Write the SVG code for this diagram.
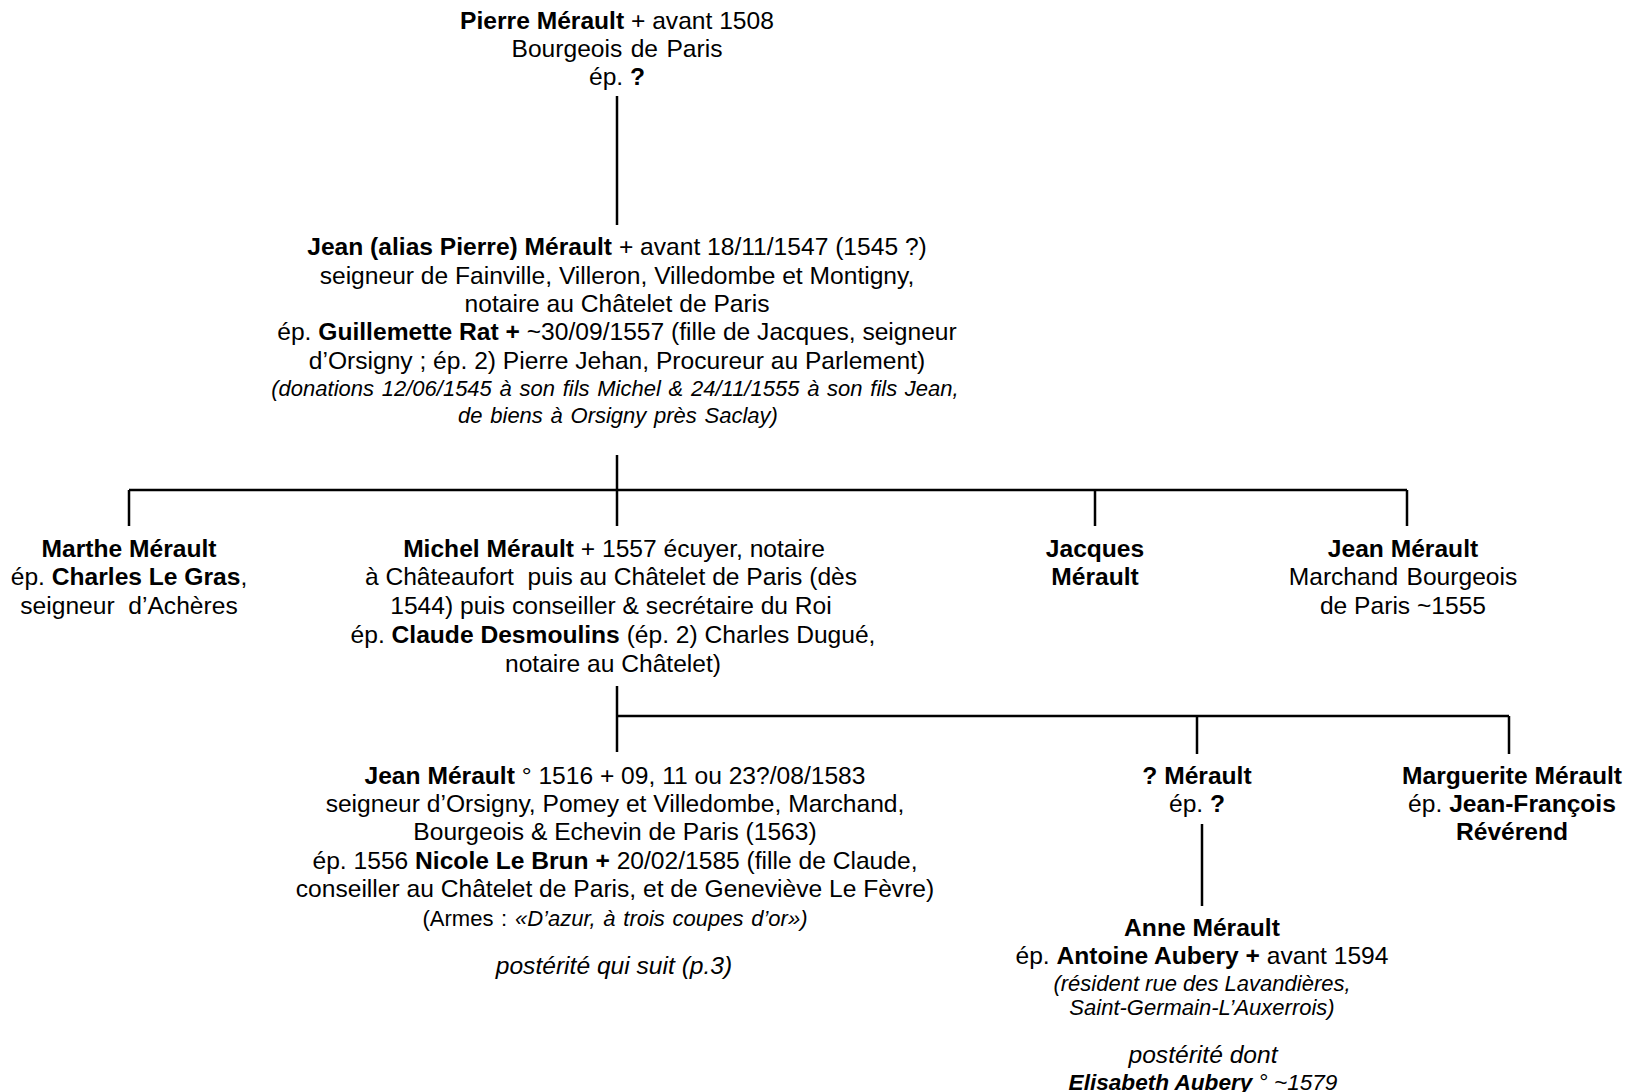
<svg xmlns="http://www.w3.org/2000/svg" width="1642" height="1092" viewBox="0 0 1642 1092">
<style>
.t{font-family:"Liberation Sans",Arial,sans-serif;font-size:24.6px;fill:#000;text-anchor:middle}
.b{font-weight:bold}
.i{font-style:italic}
.s{font-size:22px}
.ws{word-spacing:1.6px}
.ln{stroke:#000;stroke-width:2.5;fill:none}
</style>
<rect width="1642" height="1092" fill="#fff"/>
<g id="connectors" class="ln">
<path d="M617 96V225"/>
<path d="M617 455V490"/>
<path d="M129 490H1407"/>
<path d="M129 490V526M617 490V526M1095 490V526M1407 490V526"/>
<path d="M617 686V752"/>
<path d="M617 716H1509"/>
<path d="M1197 716V754M1509 716V754"/>
<path d="M1202 824V906"/>
</g>
<g id="n-pierre">
<text class="t" x="617" y="29"><tspan class="b">Pierre Mérault</tspan> + avant 1508</text>
<text class="t ws" x="617" y="57">Bourgeois de Paris</text>
<text class="t" x="617" y="85">ép. <tspan class="b">?</tspan></text>
</g>
<g id="n-jean-pere">
<text class="t" x="617" y="255"><tspan class="b">Jean (alias Pierre) Mérault</tspan> + avant 18/11/1547 (1545 ?)</text>
<text class="t" x="617" y="283.5">seigneur de Fainville, Villeron, Villedombe et Montigny,</text>
<text class="t" x="617" y="312">notaire au Châtelet de Paris</text>
<text class="t" x="617" y="340">ép. <tspan class="b">Guillemette Rat +</tspan> ~30/09/1557 (fille de Jacques, seigneur</text>
<text class="t" x="617" y="368.5">d’Orsigny ; ép. 2) Pierre Jehan, Procureur au Parlement)</text>
<text class="t i s ws" x="615" y="395.5">(donations 12/06/1545 à son fils Michel &amp; 24/11/1555 à son fils Jean,</text>
<text class="t i s ws" x="618" y="422.5">de biens à Orsigny près Saclay)</text>
</g>
<g id="n-marthe">
<text class="t" x="129" y="557"><tspan class="b">Marthe Mérault</tspan></text>
<text class="t" x="129" y="585">ép. <tspan class="b">Charles Le Gras</tspan>,</text>
<text class="t" x="129" y="614" xml:space="preserve">seigneur  d’Achères</text>
</g>
<g id="n-michel">
<text class="t" x="614" y="557"><tspan class="b">Michel Mérault</tspan> + 1557 écuyer, notaire</text>
<text class="t" x="611" y="585" xml:space="preserve">à Châteaufort  puis au Châtelet de Paris (dès</text>
<text class="t" x="611" y="614">1544) puis conseiller &amp; secrétaire du Roi</text>
<text class="t" x="613" y="643">ép. <tspan class="b">Claude Desmoulins</tspan> (ép. 2) Charles Dugué,</text>
<text class="t" x="613" y="672">notaire au Châtelet)</text>
</g>
<g id="n-jacques">
<text class="t b" x="1095" y="557">Jacques</text>
<text class="t b" x="1095" y="585">Mérault</text>
</g>
<g id="n-jean-marchand">
<text class="t b" x="1403" y="557">Jean Mérault</text>
<text class="t ws" x="1403" y="585">Marchand Bourgeois</text>
<text class="t" x="1403" y="614">de Paris ~1555</text>
</g>
<g id="n-jean-fils">
<text class="t" x="615" y="784"><tspan class="b">Jean Mérault</tspan> ° 1516 + 09, 11 ou 23?/08/1583</text>
<text class="t" x="615" y="812">seigneur d’Orsigny, Pomey et Villedombe, Marchand,</text>
<text class="t" x="615" y="840">Bourgeois &amp; Echevin de Paris (1563)</text>
<text class="t" x="615" y="869">ép. 1556 <tspan class="b">Nicole Le Brun +</tspan> 20/02/1585 (fille de Claude,</text>
<text class="t" x="615" y="897">conseiller au Châtelet de Paris, et de Geneviève Le Fèvre)</text>
<text class="t s ws" x="615" y="926">(Armes : <tspan class="i">«D’azur, à trois coupes d’or»)</tspan></text>
<text class="t i" x="614" y="974">postérité qui suit (p.3)</text>
</g>
<g id="n-inconnu">
<text class="t b" x="1197" y="784">? Mérault</text>
<text class="t" x="1197" y="812">ép. <tspan class="b">?</tspan></text>
</g>
<g id="n-marguerite">
<text class="t b" x="1512" y="784">Marguerite Mérault</text>
<text class="t" x="1512" y="812">ép. <tspan class="b">Jean-François</tspan></text>
<text class="t b" x="1512" y="840">Révérend</text>
</g>
<g id="n-anne">
<text class="t b" x="1202" y="936">Anne Mérault</text>
<text class="t" x="1202" y="964">ép. <tspan class="b">Antoine Aubery +</tspan> avant 1594</text>
<text class="t i s" x="1202" y="991">(résident rue des Lavandières,</text>
<text class="t i s" x="1202" y="1015">Saint-Germain-L’Auxerrois)</text>
<text class="t i" x="1203" y="1063">postérité dont</text>
<text class="t i" x="1203" y="1090" style="font-size:22.6px"><tspan class="b">Elisabeth Aubery</tspan> ° ~1579</text>
</g>
</svg>
